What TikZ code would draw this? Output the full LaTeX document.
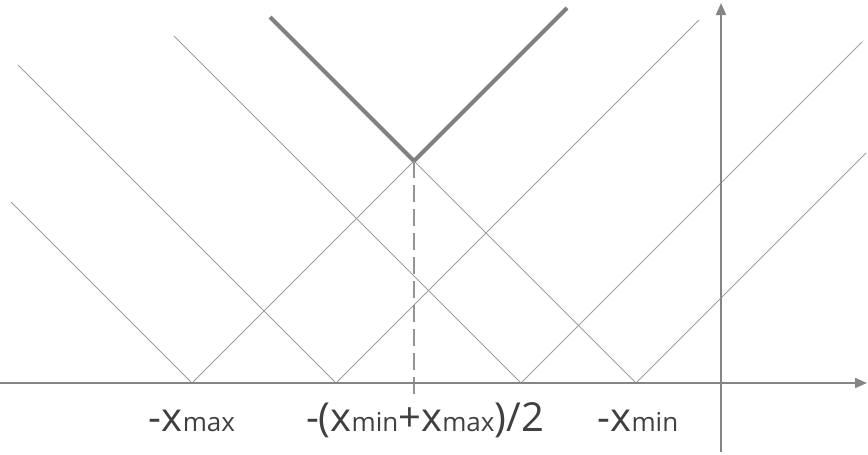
\documentclass[tikz,border=0pt]{standalone}
\usepackage{fontspec}
\setmainfont{Open Sans}
\usepackage{tikz}
\usetikzlibrary{arrows.meta, positioning, calc}

\newcommand{\subtxt}[1]{{\fontsize{26}{28}\selectfont #1}}

\begin{document}
\begin{tikzpicture}[
    x=1pt, y=-1pt,
    thin line/.style={draw=black!38, line width=1pt},
    bold line/.style={draw=black!50, line width=4pt},
    axis line/.style={draw=black!48, line width=2pt, -{Triangle[length=12pt, width=10pt]}},
    mid line/.style={draw=black!42, line width=1.2pt, dash pattern=on 17pt off 7pt},
    every node/.style={text=black!75, font=\fontsize{40}{44}\selectfont, inner sep=0pt, anchor=base}
]
    \useasboundingbox (0,0) rectangle (868,455);
    % zeros on the axis
    \coordinate (a) at (192,383);
    \coordinate (b) at (336,383);
    \coordinate (c) at (521,383);
    \coordinate (d) at (636,383);
    \coordinate (apex) at (414,161);
    % free ends of the lines
    \coordinate (a-up) at (11,202);
    \coordinate (b-up) at (18,65);
    \coordinate (c-up) at (174,36);
    \coordinate (d-up) at (270,17);
    \coordinate (b-rise) at (699,20);
    \coordinate (c-rise) at (862,42);
    \coordinate (d-rise) at (866,153);
    \coordinate (a-rise) at (567,8);
    \coordinate (mid-end) at (414,397);

    \foreach \p in {a,b,c}
        \draw[thin line] (\p-up) -- (\p);
    \foreach \p in {b,c,d}
        \draw[thin line] (\p) -- (\p-rise);
    \draw[thin line] (apex) -- (d);
    \draw[thin line] (a) -- (apex);
    \draw[bold line] (d-up) -- (apex) -- (a-rise);
    \draw[mid line] (apex) -- (mid-end);

    % axes
    \coordinate (x-start) at (0,383);
    \coordinate (x-end) at (867,383);
    \coordinate (y-start) at (721,452);
    \coordinate (y-end) at (721,3);
    \draw[axis line] (x-start) -- (x-end);
    \draw[axis line] (y-start) -- (y-end);

    \node (lmax) at (192,431) {-x\subtxt{max}};
    \node (lmid) at (425,431) {-(x\subtxt{min}+x\subtxt{max})/2};
    \node (lmin) at (638,431) {-x\subtxt{min}};
\end{tikzpicture}
\end{document}
